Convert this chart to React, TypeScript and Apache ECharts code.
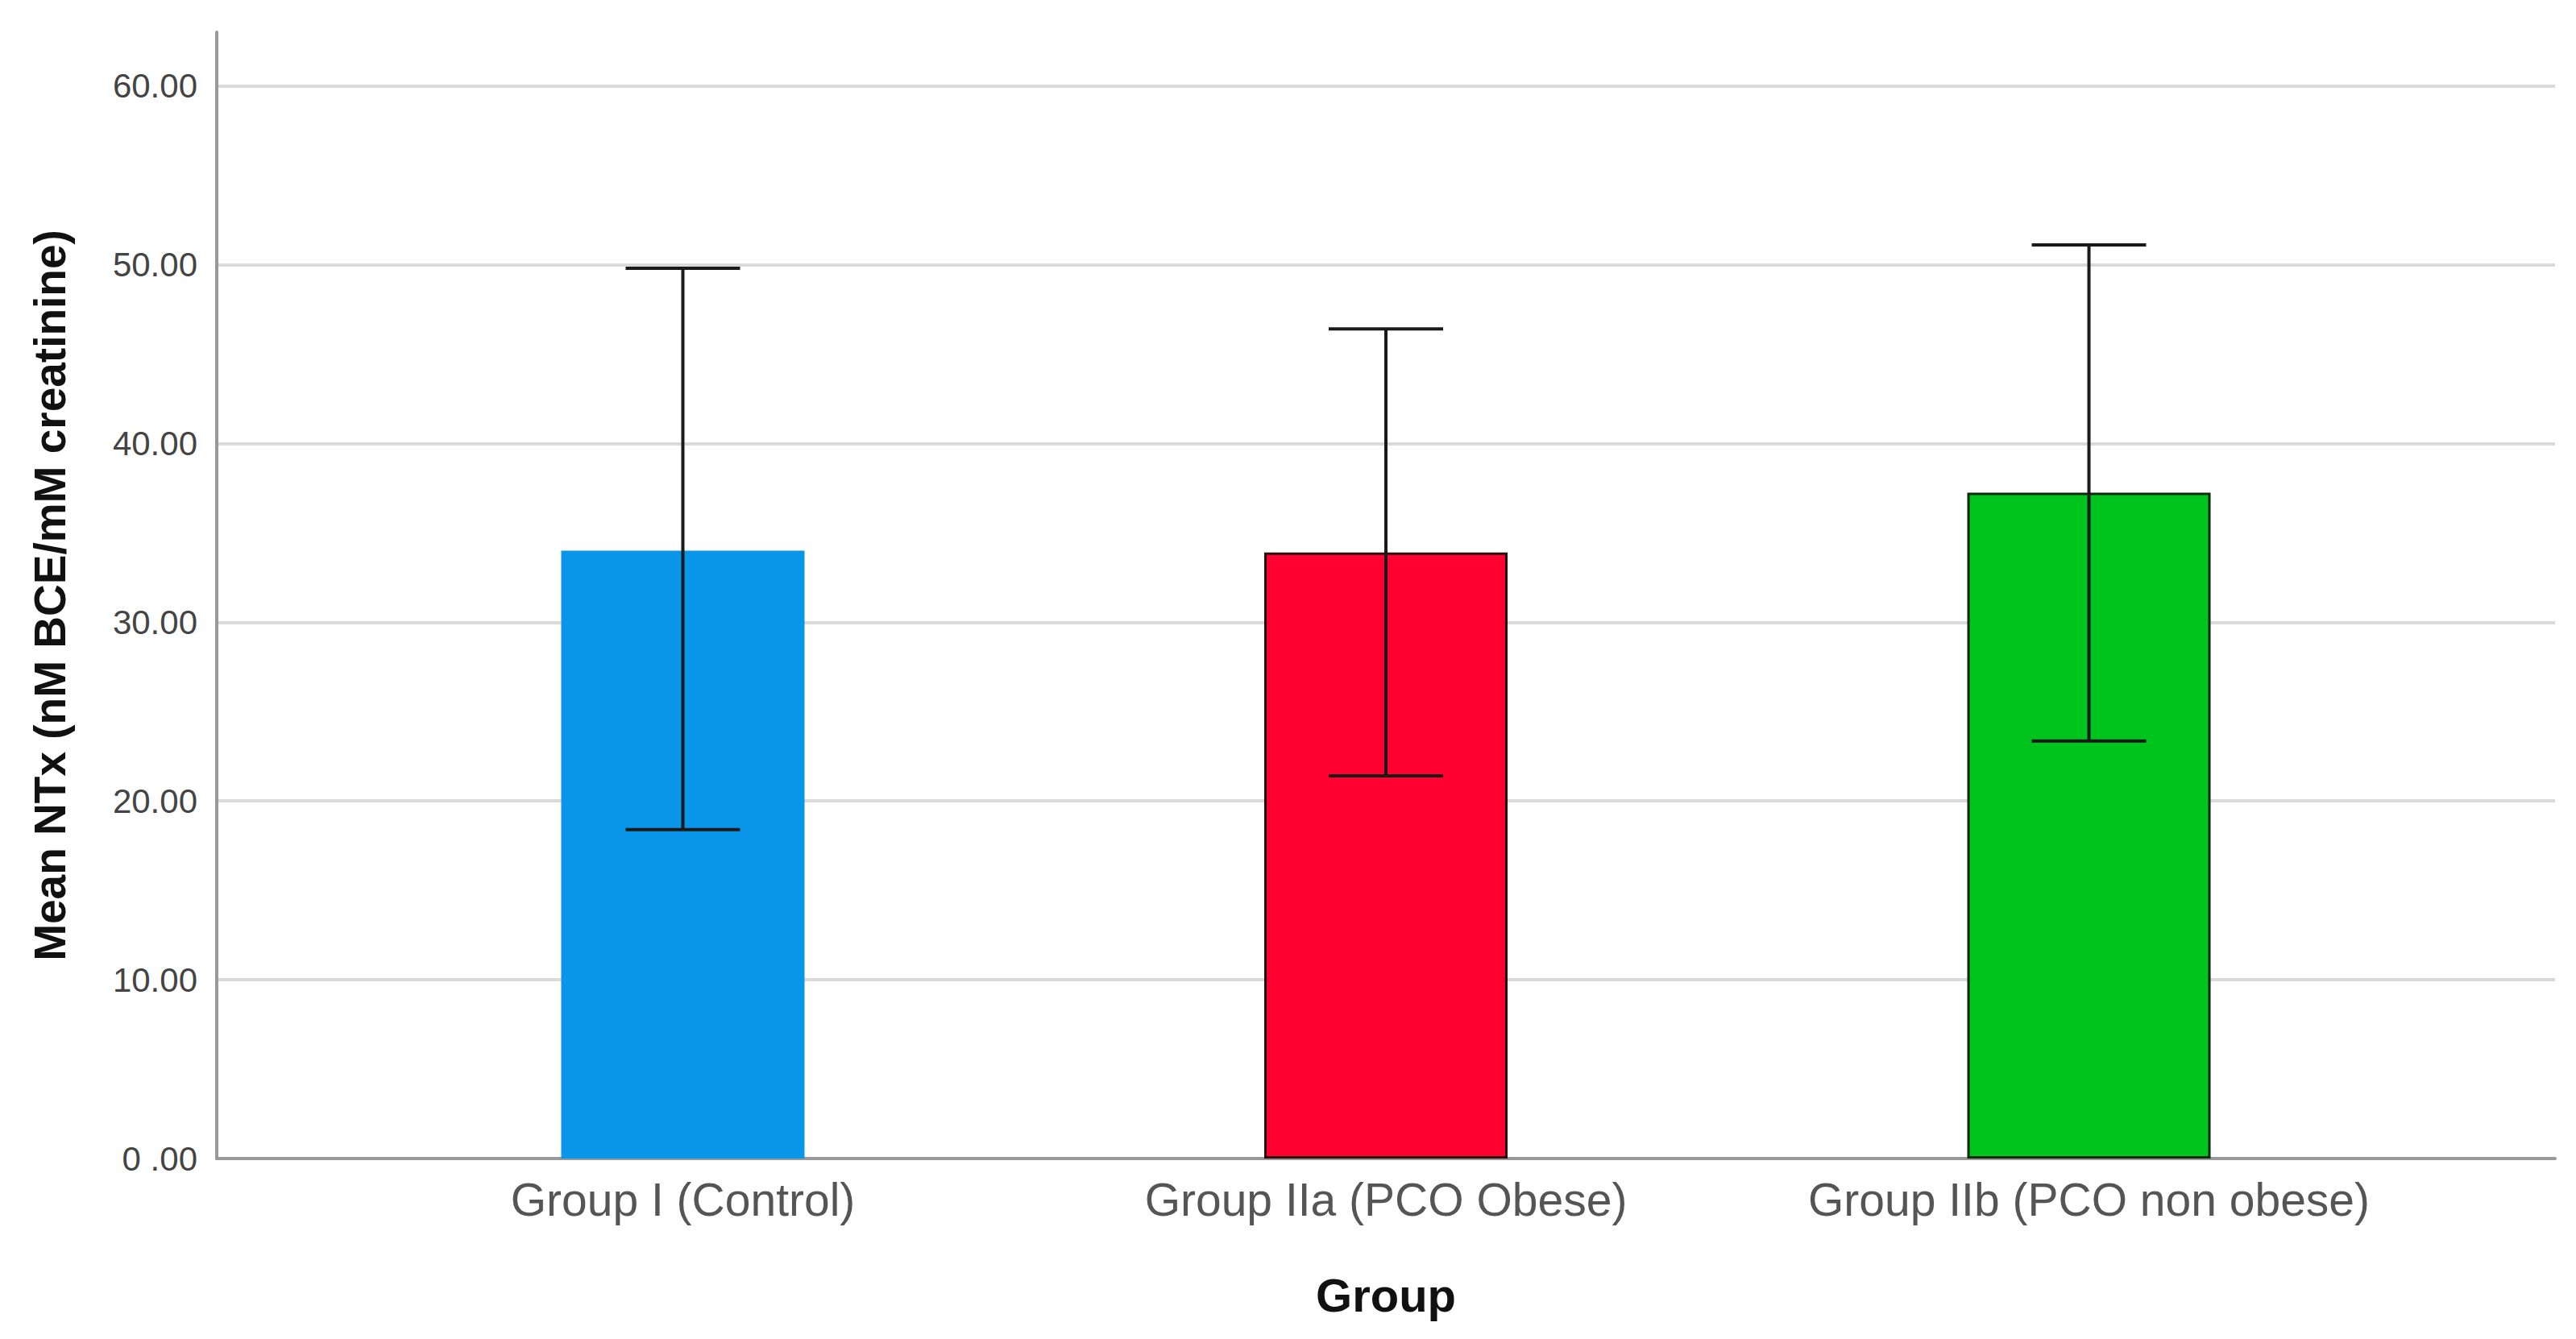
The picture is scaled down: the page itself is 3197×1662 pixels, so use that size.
import React, { useEffect, useRef } from "react";
import * as echarts from "echarts";

const categories = ["Group I (Control)", "Group IIa (PCO Obese)", "Group IIb (PCO non obese)"];
const means = [34.0, 33.9, 37.25];
const lowerCI = [18.4, 21.4, 23.35];
const upperCI = [49.8, 46.4, 51.1];
const barColors = ["#0A96E8", "#FF0030", "#00C41E"];
const barBorders = ["#0A96E8", "#2a0a0a", "#0a2a0a"];
const yTicks = [0, 10, 20, 30, 40, 50, 60];

const FONT = "'Liberation Sans', Arial, sans-serif";

export default function App() {
  const ref = useRef<HTMLDivElement>(null);
  useEffect(() => {
    document.body.style.margin = "0";
    const chart = echarts.init(ref.current!, null, { renderer: "svg" });
    const barData = means.map((m, i) => ({
      value: [i, m],
      itemStyle: { color: barColors[i], borderColor: barBorders[i], borderWidth: i === 0 ? 0 : 3 },
    }));
    const errData = categories.map((_, i) => [i, lowerCI[i], upperCI[i]]);
    chart.setOption({
      animation: false,
      backgroundColor: "#ffffff",
      grid: { left: 269, right: 26, top: 40, bottom: 224, containLabel: false },
      xAxis: {
        type: "value",
        min: -0.663,
        max: 2.663,
        name: "Group",
        nameLocation: "middle",
        nameGap: 140,
        nameTextStyle: { fontFamily: FONT, fontWeight: "bold", fontSize: 58, color: "#111" },
        axisLine: { show: true, onZero: false, lineStyle: { color: "#999", width: 4 } },
        axisTick: { show: false },
        splitLine: { show: false },
        axisLabel: {
          customValues: [0, 1, 2],
          formatter: (v: number) => categories[Math.round(v)] ?? "",
          fontFamily: FONT,
          fontSize: 57,
          color: "#555",
          margin: 22,
        },
      },
      yAxis: {
        type: "value",
        min: 0,
        max: 63,
        interval: 10,
        name: "Mean NTx (nM BCE/mM creatinine)",
        nameLocation: "middle",
        nameGap: 180,
        nameTextStyle: { fontFamily: FONT, fontWeight: "bold", fontSize: 55, color: "#111" },
        axisLine: { show: true, onZero: false, lineStyle: { color: "#999", width: 4 } },
        axisTick: { show: false },
        splitLine: {
          show: true,
          showMinLine: false,
          showMaxLine: false,
          lineStyle: { color: "#dadada", width: 4 },
        },
        axisLabel: {
          showMaxLabel: false,
          formatter: (v: number) => (yTicks.includes(v) ? (v === 0 ? "0 .00" : v.toFixed(2)) : ""),
          fontFamily: FONT,
          fontSize: 42,
          color: "#444",
          margin: 24,
        },
      },
      series: [
        {
          type: "bar",
          data: barData,
          barWidth: 302,
        },
        {
          type: "custom",
          data: errData,
          encode: { x: 0, y: [1, 2] },
          z: 10,
          renderItem: (params: any, api: any) => {
            const x = api.value(0);
            const lo = api.coord([x, api.value(1)]);
            const hi = api.coord([x, api.value(2)]);
            const half = 71;
            const style = { stroke: "#1a1a1a", lineWidth: 4 };
            return {
              type: "group",
              children: [
                { type: "line", shape: { x1: hi[0], y1: hi[1], x2: lo[0], y2: lo[1] }, style },
                { type: "line", shape: { x1: hi[0] - half, y1: hi[1], x2: hi[0] + half, y2: hi[1] }, style },
                { type: "line", shape: { x1: lo[0] - half, y1: lo[1], x2: lo[0] + half, y2: lo[1] }, style },
              ],
            };
          },
        },
      ],
    });
    return () => chart.dispose();
  }, []);
  return <div ref={ref} style={{ width: 3197, height: 1662 }} />;
}
